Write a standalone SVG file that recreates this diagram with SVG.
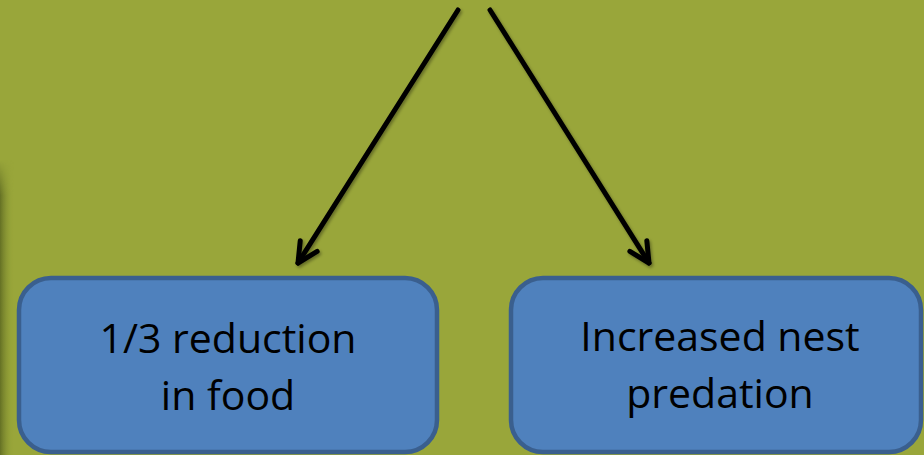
<svg xmlns="http://www.w3.org/2000/svg" width="924" height="455" viewBox="0 0 924 455">
<style>
.box{fill:#4f81bd;stroke:#3a5f8e;stroke-width:4.5}
.lbl{font-family:"Open Sans","Liberation Sans",Arial,sans-serif;font-size:41px;fill:#000;text-anchor:middle}
.arr{fill:none;stroke:#000;stroke-width:5;stroke-linecap:round;stroke-linejoin:round}
</style>
<defs>
<linearGradient id="edge" x1="0" y1="0" x2="1" y2="0">
<stop offset="0" stop-color="#5e6a22" stop-opacity="0.9"/>
<stop offset="1" stop-color="#99a63a" stop-opacity="0"/>
</linearGradient>
<linearGradient id="edgev" x1="0" y1="0" x2="0" y2="1">
<stop offset="0" stop-color="#fff" stop-opacity="0"/>
<stop offset="0.12" stop-color="#fff" stop-opacity="1"/>
<stop offset="1" stop-color="#fff" stop-opacity="1"/>
</linearGradient>
<mask id="m"><rect x="0" y="160" width="14" height="295" fill="url(#edgev)"/></mask>
<filter id="sh" x="-20%" y="-20%" width="140%" height="140%">
<feDropShadow dx="1.5" dy="2" stdDeviation="1.5" flood-color="#000" flood-opacity="0.35"/>
</filter>
<marker id="head" markerUnits="userSpaceOnUse" viewBox="-24 -14 28 28" refX="0" refY="0" markerWidth="28" markerHeight="28" orient="auto">
<path d="M-20,-10 L0,0 L-20,10" fill="none" stroke="#000" stroke-width="5" stroke-linecap="round" stroke-linejoin="round"/>
</marker>
</defs>
<rect width="924" height="455" fill="#99a63a"/>
<rect x="0" y="160" width="14" height="295" fill="url(#edge)" mask="url(#m)"/>
<g id="connectors" filter="url(#sh)">
<path class="arr" d="M458,10 L298,263" marker-end="url(#head)"/>
<path class="arr" d="M490,10 L649,263" marker-end="url(#head)"/>
</g>
<g id="node-food">
<rect class="box" x="19" y="278" width="418" height="174" rx="32" ry="32"/>
<text class="lbl" x="228" y="353">1/3 reduction</text>
<text class="lbl" x="228" y="410">in food</text>
</g>
<g id="node-predation">
<rect class="box" x="511" y="278" width="410" height="174" rx="32" ry="32"/>
<text class="lbl" x="720" y="351">Increased nest</text>
<text class="lbl" x="720" y="408">predation</text>
</g>
</svg>
